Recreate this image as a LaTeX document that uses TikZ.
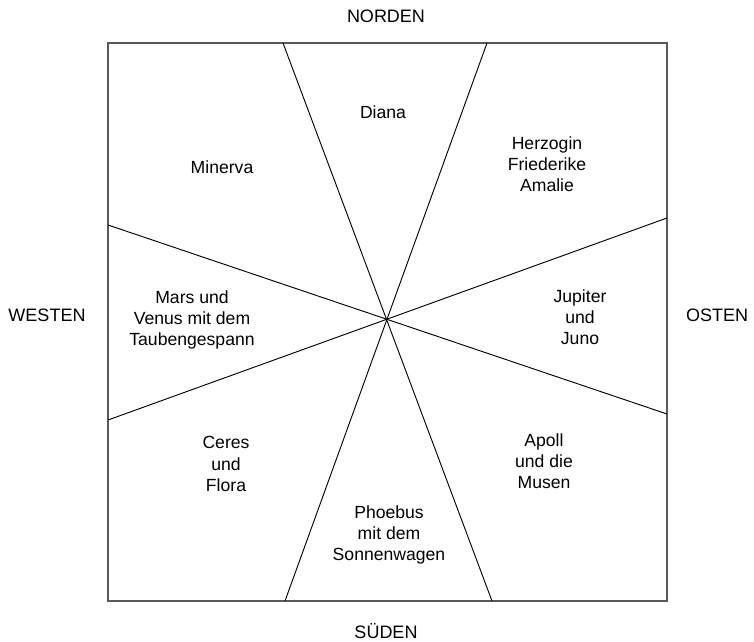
\documentclass[tikz,border=0pt]{standalone}
\usepackage{fontspec}
\setmainfont{Liberation Sans}
\begin{document}
\begin{tikzpicture}[x=0.75pt,y=-0.75pt,
  lbl/.style={align=center,font=\fontsize{13.2}{15.8}\selectfont,inner sep=0pt},
  dir/.style={font=\fontsize{13.5}{16}\selectfont,inner sep=0pt},
  sector/.style={line width=0.7pt,black}]
\useasboundingbox (0,0) rectangle (754,642);
\draw[line width=1.1pt,black!65] (108,43) rectangle (667,601);
\coordinate (n1) at (283,43);
\coordinate (n2) at (487,43);
\coordinate (s1) at (285,601);
\coordinate (s2) at (492,601);
\coordinate (w1) at (108,225);
\coordinate (w2) at (108,420);
\coordinate (e1) at (667,218);
\coordinate (e2) at (667,414);
\draw[sector] (n1) -- (s2);
\draw[sector] (n2) -- (s1);
\draw[sector] (w1) -- (e2);
\draw[sector] (w2) -- (e1);
\node[dir] (nord) at (386,16) {NORDEN};
\node[dir] (sued) at (386,631) {SÜDEN};
\node[dir] (west) at (47,315) {WESTEN};
\node[dir] (ost) at (717,315) {OSTEN};
\node[lbl] (diana) at (383,112) {Diana};
\node[lbl] (minerva) at (222,167) {Minerva};
\node[lbl] (herz) at (547,164) {Herzogin\\Friederike\\Amalie};
\node[lbl] (mars) at (192,320) {Mars und\\Venus mit dem\\Taubengespann};
\node[lbl] (jup) at (580,317) {Jupiter\\und\\Juno};
\node[lbl] (ceres) at (226,464) {Ceres\\und\\Flora};
\node[lbl] (apoll) at (544,461) {Apoll\\und die\\Musen};
\node[lbl] (phoe) at (389,535) {Phoebus\\mit dem\\Sonnenwagen};
\end{tikzpicture}
\end{document}
